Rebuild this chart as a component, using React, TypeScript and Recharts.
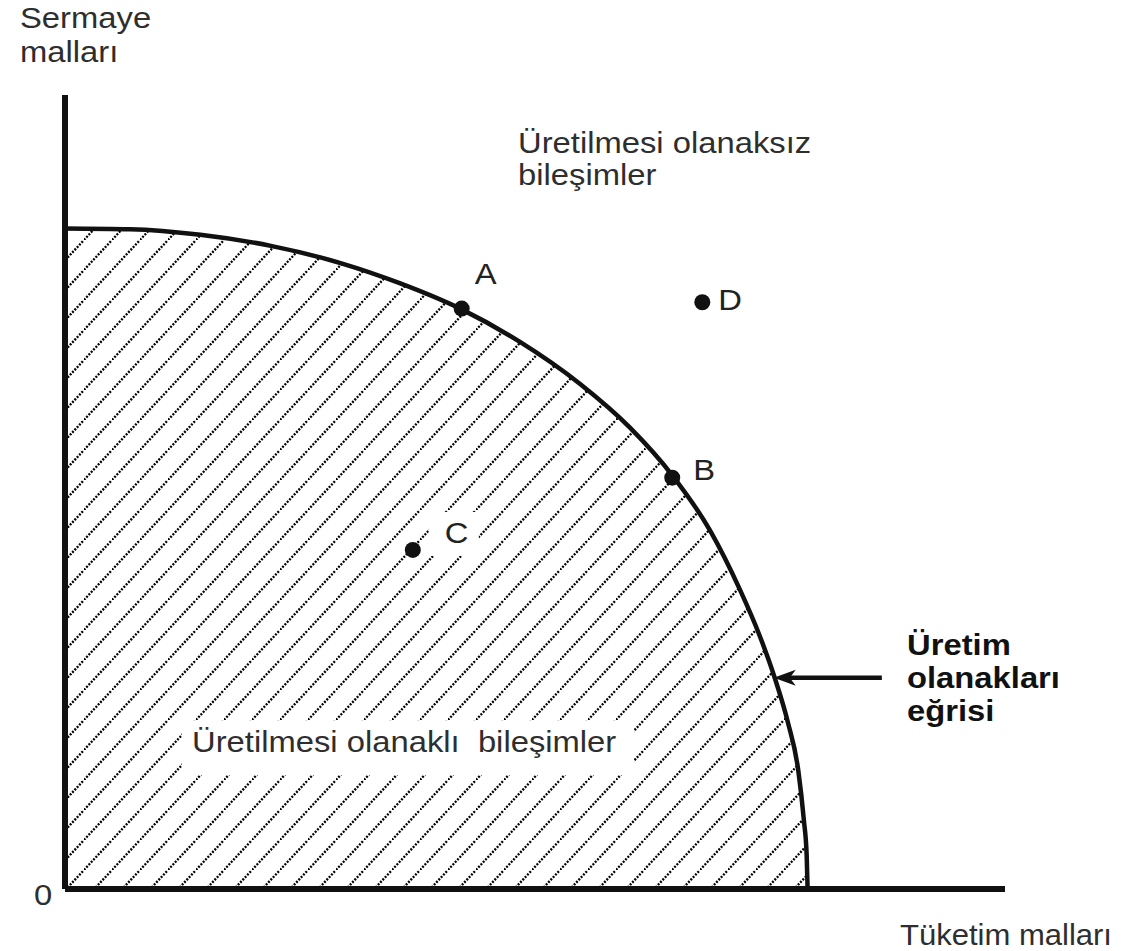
import React from 'react';
import { ComposedChart, Area, Scatter, XAxis, YAxis, ReferenceLine } from 'recharts';

// Production possibilities frontier (axis units 0..100)
const curveX = [0, 6.9, 14.4, 21.9, 29.4, 35.6, 42.2, 48.4, 54.8, 60.1, 64.6, 68.6, 71.8, 73.9, 75.5, 76.9, 78.0, 78.6, 78.9, 79.0];
const curveY = [83.2, 83.1, 82.4, 81.0, 78.8, 76.3, 73.0, 68.9, 63.6, 58.1, 52.1, 45.2, 37.7, 31.9, 26.6, 21.0, 15.0, 8.7, 4.3, 0];

const pointNames = ['A', 'B', 'C', 'D'];
const pointX = [42.2, 64.6, 37.0, 67.8];
const pointY = [73.1, 51.8, 42.7, 73.9];

// arrow pointing at the curve: from label side to curve
const arrowX = [86.9, 75.4];
const arrowY = [26.6, 26.6];

const yAxisTitle = ['Sermaye', 'malları'];
const xAxisTitle = 'Tüketim malları';
const impossibleLabel = ['Üretilmesi olanaksız', 'bileşimler'];
const possibleLabel = 'Üretilmesi olanaklı  bileşimler';
const curveLabel = ['Üretim', 'olanakları', 'eğrisi'];
const originLabel = '0';

const curveData = curveX.map((x, i) => ({ x, y: curveY[i] }));
const pointData = pointNames.map((name, i) => ({ name, x: pointX[i], y: pointY[i] }));

const W = 1127;
const H = 951;
const FONT = '"Liberation Sans", Arial, Helvetica, sans-serif';
const SX = 1.13;

const labelOffset: Record<string, [number, number]> = {
  A: [13, -25],
  B: [21, 2],
  C: [32, -7],
  D: [16, 8],
};

const PointShape = (props: any) => {
  const { cx, cy, payload } = props;
  const name = payload?.name as string;
  const [dx, dy] = labelOffset[name] || [12, 0];
  return (
    <g>
      {name === 'C' && (
        <rect x={cx + 16} y={cy - 38} width={50} height={44} fill="#fff" />
      )}
      <circle cx={cx} cy={cy} r={8} fill="#111" />
      <text
        transform={`translate(${cx + dx},${cy + dy}) scale(${SX},1)`}
        fontFamily={FONT}
        fontSize={29}
        fill="#222"
      >
        {name}
      </text>
    </g>
  );
};

const ArrowShape = (props: any) => {
  const { x1, y1, x2, y2 } = props;
  return (
    <g>
      <line x1={x1} y1={y1} x2={x2 + 14} y2={y2} stroke="#111" strokeWidth={4.5} />
      <polygon
        points={`${x2},${y2} ${x2 + 22},${y2 - 8} ${x2 + 16},${y2} ${x2 + 22},${y2 + 8}`}
        fill="#111"
      />
    </g>
  );
};

const Txt = ({ x, y, children, bold, sx = SX }: { x: number; y: number; children: React.ReactNode; bold?: boolean; sx?: number }) => (
  <text
    transform={`translate(${x},${y}) scale(${sx},1)`}
    fontFamily={FONT}
    fontSize={29}
    fontWeight={bold ? 'bold' : 'normal'}
    fill={bold ? '#111' : '#2e2e2e'}
    style={{ whiteSpace: 'pre' }}
    xmlSpace="preserve"
  >
    {children}
  </text>
);

export default function App() {
  return (
    <div style={{ position: 'absolute', left: 0, top: 0, width: W, height: H, background: '#fff' }}>
      <ComposedChart
        width={W}
        height={H}
        data={curveData}
        margin={{ top: 95, right: 122, bottom: 62, left: 65 }}
      >
        <defs>
          <pattern id="hatch" patternUnits="userSpaceOnUse" x={0} y={0} width={28} height={30}>
            <line
              x1={0}
              y1={30}
              x2={28}
              y2={0}
              stroke="#000"
              strokeWidth={2.3}
              strokeDasharray="2 1.4"
            />
          </pattern>
        </defs>
        <XAxis
          type="number"
          dataKey="x"
          domain={[0, 100]}
          allowDataOverflow
          tick={false}
          tickLine={false}
          axisLine={false}
          height={0}
        />
        <YAxis
          type="number"
          domain={[0, 100]}
          allowDataOverflow
          tick={false}
          tickLine={false}
          axisLine={false}
          width={0}
        />
        <Area
          type="monotone"
          dataKey="y"
          data={curveData}
          stroke="#111"
          strokeWidth={4.5}
          fill="url(#hatch)"
          fillOpacity={1}
          isAnimationActive={false}
          dot={false}
          activeDot={false}
        />
        <ReferenceLine x={0} stroke="#111" strokeWidth={6} ifOverflow="visible" />
        <ReferenceLine y={0} stroke="#111" strokeWidth={6} ifOverflow="visible" />
        <ReferenceLine
          segment={[
            { x: arrowX[0], y: arrowY[0] },
            { x: arrowX[1], y: arrowY[1] },
          ]}
          shape={ArrowShape}
          ifOverflow="visible"
        />
        <Scatter data={pointData} dataKey="y" shape={PointShape} isAnimationActive={false} />
      </ComposedChart>
      <svg
        width={W}
        height={H}
        style={{ position: 'absolute', left: 0, top: 0, pointerEvents: 'none' }}
      >
        <Txt x={20} y={28}>{yAxisTitle[0]}</Txt>
        <Txt x={20} y={62}>{yAxisTitle[1]}</Txt>
        <Txt x={518} y={153}>{impossibleLabel[0]}</Txt>
        <Txt x={518} y={185}>{impossibleLabel[1]}</Txt>
        <rect x={182} y={721} width={452} height={54} fill="#fff" />
        <Txt x={192} y={752}>{possibleLabel}</Txt>
        <Txt x={907} y={655} bold>{curveLabel[0]}</Txt>
        <Txt x={907} y={688} bold>{curveLabel[1]}</Txt>
        <Txt x={907} y={721} bold>{curveLabel[2]}</Txt>
        <Txt x={900} y={945} sx={1.07}>{xAxisTitle}</Txt>
        <Txt x={34} y={905}>{originLabel}</Txt>
      </svg>
    </div>
  );
}
